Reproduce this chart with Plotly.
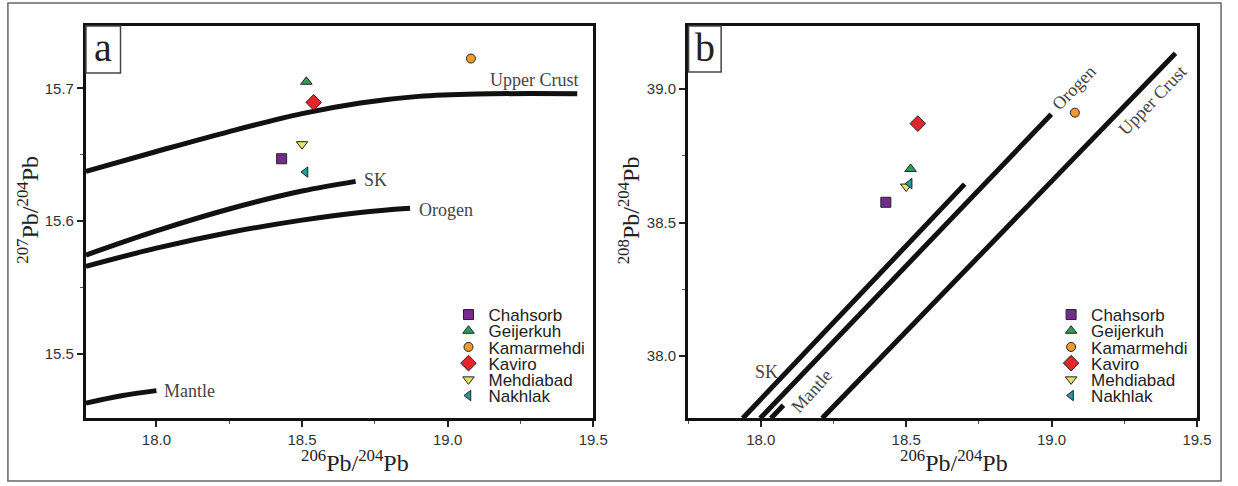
import plotly.graph_objects as go

# ---- sample data -------------------------------------------------------
sites = ["Chahsorb", "Geijerkuh", "Kamarmehdi", "Kaviro", "Mehdiabad", "Nakhlak"]
pb206_204 = [18.43, 18.515, 19.08, 18.54, 18.50, 18.512]
pb207_204 = [15.647, 15.705, 15.7225, 15.6895, 15.658, 15.637]
pb208_204 = [38.576, 38.701, 38.912, 38.871, 38.635, 38.646]

symbols = ["square", "triangle-up", "circle", "diamond", "triangle-down", "triangle-left"]
colors = ["#742c8a", "#2f9e55", "#f39a2c", "#e3262b", "#e4e26c", "#1f9ea2"]
sizes = [10, 10, 9, 12, 10, 9]

# ---- reservoir evolution curves (Zartman & Doe style) -------------------
# 207Pb/204Pb vs 206Pb/204Pb
uc_a_x = [17.758, 18.0, 18.25, 18.5, 18.7, 18.9, 19.1, 19.445]
uc_a_y = [15.6375, 15.6525, 15.6675, 15.681, 15.689, 15.694, 15.6958, 15.696]
sk_a_x = [17.758, 18.0, 18.25, 18.5, 18.684]
sk_a_y = [15.5745, 15.5927, 15.6092, 15.6227, 15.630]
or_a_x = [17.758, 18.0, 18.25, 18.5, 18.7, 18.871]
or_a_y = [15.566, 15.5797, 15.5915, 15.6008, 15.6066, 15.6097]
ma_a_x = [17.758, 17.88, 18.0]
ma_a_y = [15.463, 15.4685, 15.4724]

# 208Pb/204Pb vs 206Pb/204Pb
sk_b_x = [17.938, 18.701]
sk_b_y = [37.766, 38.644]
or_b_x = [17.998, 18.999]
or_b_y = [37.766, 38.906]
ma_b_x = [18.035, 18.078]
ma_b_y = [37.766, 37.815]
uc_b_x = [18.211, 19.426]
uc_b_y = [37.766, 39.135]

W, H = 1238, 486


def fx(px):
    return px / W


def fy(py):
    return 1 - py / H


SERIF = "Liberation Serif, Times New Roman, serif"
SANS = "Liberation Sans, Arial, sans-serif"

fig = go.Figure()

curve_line = dict(color="#111111", width=5)
for cx, cy in [(uc_a_x, uc_a_y), (sk_a_x, sk_a_y), (or_a_x, or_a_y), (ma_a_x, ma_a_y)]:
    fig.add_trace(go.Scatter(x=cx, y=cy, mode="lines", line=dict(curve_line, shape="spline", smoothing=1.0),
                             showlegend=False, hoverinfo="skip", xaxis="x", yaxis="y"))
for cx, cy in [(sk_b_x, sk_b_y), (or_b_x, or_b_y), (ma_b_x, ma_b_y), (uc_b_x, uc_b_y)]:
    fig.add_trace(go.Scatter(x=cx, y=cy, mode="lines", line=curve_line,
                             showlegend=False, hoverinfo="skip", xaxis="x2", yaxis="y2"))

# one legend per entry so rows can be packed tightly
legend_rows = [315, 331.2, 347.4, 363.6, 379.8, 396]
for i, site in enumerate(sites):
    marker = dict(symbol=symbols[i], color=colors[i], size=sizes[i],
                  line=dict(color="#222222", width=1))
    la = "legend" if i == 0 else f"legend{i + 1}"
    lb = f"legend{i + 7}"
    fig.add_trace(go.Scatter(x=[pb206_204[i]], y=[pb207_204[i]], mode="markers", name=site,
                             marker=marker, xaxis="x", yaxis="y", legend=la))
    fig.add_trace(go.Scatter(x=[pb206_204[i]], y=[pb208_204[i]], mode="markers", name=site,
                             marker=marker, xaxis="x2", yaxis="y2", legend=lb))

legend_font = dict(family=SANS, size=17, color="#222222")
legends = {}
for i in range(6):
    common = dict(xanchor="left", yanchor="middle", bgcolor="rgba(0,0,0,0)",
                  borderwidth=0, font=legend_font, itemclick=False, itemdoubleclick=False)
    legends["legend" if i == 0 else f"legend{i + 1}"] = dict(common, x=fx(454), y=fy(legend_rows[i]))
    legends[f"legend{i + 7}"] = dict(common, x=fx(1064), y=fy(legend_rows[i]))

tickfont = dict(family=SANS, size=15, color="#333333")
axis_common = dict(showline=True, linewidth=3, linecolor="#111111", mirror=True,
                   ticks="outside", ticklen=6, tickwidth=1.5, tickcolor="#222222",
                   showgrid=False, zeroline=False, tickfont=tickfont, tickformat=".1f")

fig.update_layout(
    width=W, height=H,
    margin=dict(l=0, r=0, t=0, b=0),
    paper_bgcolor="white", plot_bgcolor="white",
    xaxis=dict(axis_common, domain=[fx(87), fx(600.5)], range=[17.758, 19.5], tick0=18, dtick=0.5,
               minor=dict(ticks="outside", ticklen=3, tickwidth=1, tickcolor="#555555", dtick=0.25, tick0=18),
               anchor="y"),
    yaxis=dict(axis_common, domain=[fy(417.7), fy(26)], range=[15.452, 15.747], tick0=15.5, dtick=0.1,
               minor=dict(ticks="outside", ticklen=3, tickwidth=1, tickcolor="#555555", dtick=0.05, tick0=15.5),
               anchor="x"),
    xaxis2=dict(axis_common, domain=[fx(696.5), fx(1211.7)], range=[17.75, 19.5], tick0=18, dtick=0.5,
                minor=dict(ticks="outside", ticklen=3, tickwidth=1, tickcolor="#555555", dtick=0.25, tick0=18),
                anchor="y2"),
    yaxis2=dict(axis_common, domain=[fy(418.3), fy(26)], range=[37.766, 39.237], tick0=38, dtick=0.5,
                minor=dict(ticks="outside", ticklen=3, tickwidth=1, tickcolor="#555555", dtick=0.25, tick0=38),
                anchor="x2"),
    **legends,
)

# outer frame and panel letter boxes
fig.add_shape(type="rect", xref="paper", yref="paper", x0=fx(8), x1=fx(1236), y0=fy(481), y1=fy(3),
              line=dict(color="#666666", width=1.5), layer="below")
for x0, x1, y1 in [(87, 122, 73), (697, 730, 72)]:
    fig.add_shape(type="rect", xref="paper", yref="paper", x0=fx(x0), x1=fx(x1), y0=fy(y1), y1=fy(26),
                  line=dict(color="#444444", width=1.5), fillcolor="white")

centered = dict(showarrow=False, xanchor="center", yanchor="middle")
ann = []
# panel letters
ann.append(dict(centered, text="a", x=fx(104.5), y=fy(47), xref="paper", yref="paper",
                font=dict(family=SERIF, size=40, color="#222222")))
ann.append(dict(centered, text="b", x=fx(713.5), y=fy(47), xref="paper", yref="paper",
                font=dict(family=SERIF, size=40, color="#222222")))

# axis titles
title_font = dict(family=SERIF, size=24, color="#222222")
ann.append(dict(centered, text="<sup>206</sup>Pb/<sup>204</sup>Pb", x=fx(359), y=fy(461),
                xref="paper", yref="paper", font=title_font))
ann.append(dict(centered, text="<sup>206</sup>Pb/<sup>204</sup>Pb", x=fx(966), y=fy(461),
                xref="paper", yref="paper", font=title_font))
ann.append(dict(centered, text="<sup>207</sup>Pb/<sup>204</sup>Pb", x=fx(28), y=fy(210),
                xref="paper", yref="paper", textangle=-90, font=title_font))
ann.append(dict(centered, text="<sup>208</sup>Pb/<sup>204</sup>Pb", x=fx(637), y=fy(210),
                xref="paper", yref="paper", textangle=-90, font=title_font))

# curve labels
lab_font = dict(family=SERIF, size=18, color="#444444")
for text, x, y in [("Upper Crust", 19.297, 15.706), ("SK", 18.752, 15.631),
                   ("Orogen", 18.993, 15.6084), ("Mantle", 18.114, 15.4724)]:
    ann.append(dict(centered, text=text, x=x, y=y, xref="x", yref="y", font=lab_font))
for text, x, y, ang in [("Orogen", 19.076, 39.005, -46), ("Upper Crust", 19.348, 38.96, -46),
                        ("SK", 18.020, 37.941, 0), ("Mantle", 18.175, 37.869, -48)]:
    ann.append(dict(centered, text=text, x=x, y=y, xref="x2", yref="y2", textangle=ang, font=lab_font))

fig.update_layout(annotations=ann)

fig.write_html("out.html")
